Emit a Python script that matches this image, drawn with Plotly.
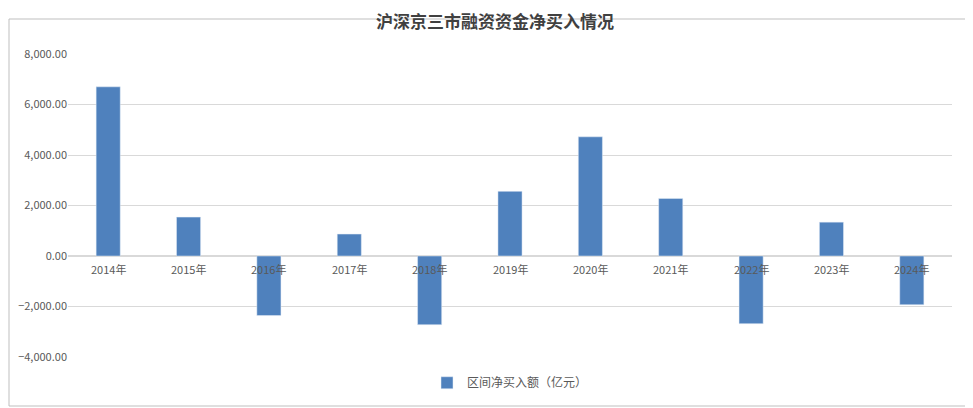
import plotly.graph_objects as go

years = ["2014年", "2015年", "2016年", "2017年", "2018年", "2019年",
         "2020年", "2021年", "2022年", "2023年", "2024年"]
net_buy = [6700, 1540, -2360, 870, -2720, 2560, 4720, 2280, -2680, 1340, -1930]

font_cjk = "Noto Sans CJK SC"
grey = "#595959"

fig = go.Figure()
fig.add_trace(go.Bar(
    x=years, y=net_buy, name="区间净买入额（亿元）",
    marker=dict(color="#4F81BD"), width=0.3,
))

# category labels sit on the zero line
for yr in years:
    fig.add_annotation(x=yr, y=0, text=yr, showarrow=False, yanchor="top",
                       yshift=-3, font=dict(size=11, color=grey, family=font_cjk))

# outer frame
fig.add_shape(type="rect", xref="paper", yref="paper",
              x0=-59 / 884, x1=(969 - 60) / 884,
              y0=-(398 - 349) / 303, y1=(349 - 11) / 303,
              line=dict(color="#BFBFBF", width=1))

fig.update_layout(
    width=973, height=408,
    margin=dict(l=60, r=29, t=46, b=59, autoexpand=False),
    paper_bgcolor="white", plot_bgcolor="white",
    title=dict(text="<b>沪深京三市融资资金净买入情况</b>", x=(495 - 8) / 973, xanchor="center",
               y=1 - 14 / 408, yanchor="middle",
               font=dict(size=17, color="#404040", family=font_cjk)),
    font=dict(family=font_cjk, color=grey, size=11),
    showlegend=True,
    legend=dict(orientation="h", x=0.5, xanchor="center", y=-0.085, yanchor="middle",
                bgcolor="rgba(0,0,0,0)", font=dict(size=12, color=grey)),
    bargap=0.7,
)
fig.update_xaxes(showticklabels=False, showline=False, showgrid=False, automargin=False)
fig.update_yaxes(range=[-4000, 8000], dtick=2000, tickformat=",.2f", automargin=False,
                 gridcolor="#D9D9D9", zeroline=True, zerolinecolor="#D9D9D9",
                 tickfont=dict(size=11, color=grey))

fig.write_html("out.html")
